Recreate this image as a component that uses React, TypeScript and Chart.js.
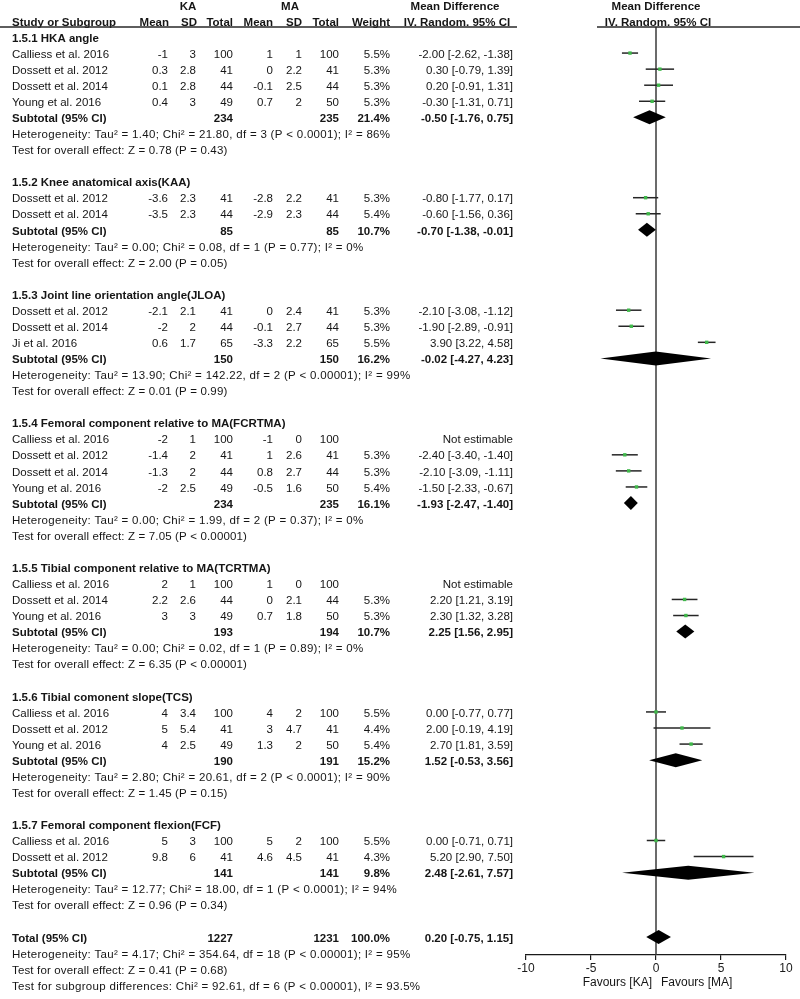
import React, { useEffect, useRef } from "react";
import { Chart, registerables } from "chart.js";

Chart.register(...registerables);

const groupTitles = [
  "1.5.1 HKA angle",
  "1.5.2 Knee anatomical axis(KAA)",
  "1.5.3 Joint line orientation angle(JLOA)",
  "1.5.4 Femoral component relative to MA(FCRTMA)",
  "1.5.5 Tibial component relative to MA(TCRTMA)",
  "1.5.6 Tibial comonent slope(TCS)",
  "1.5.7 Femoral component flexion(FCF)",
];

const studyGroup = [0, 0, 0, 0, 1, 1, 2, 2, 2, 3, 3, 3, 3, 4, 4, 4, 5, 5, 5, 6, 6];
const studyNames = [
  "Calliess et al. 2016", "Dossett et al. 2012", "Dossett et al. 2014", "Young et al. 2016",
  "Dossett et al. 2012", "Dossett et al. 2014",
  "Dossett et al. 2012", "Dossett et al. 2014", "Ji et al. 2016",
  "Calliess et al. 2016", "Dossett et al. 2012", "Dossett et al. 2014", "Young et al. 2016",
  "Calliess et al. 2016", "Dossett et al. 2014", "Young et al. 2016",
  "Calliess et al. 2016", "Dossett et al. 2012", "Young et al. 2016",
  "Calliess et al. 2016", "Dossett et al. 2012",
];
const kaMean = ["-1", "0.3", "0.1", "0.4", "-3.6", "-3.5", "-2.1", "-2", "0.6", "-2", "-1.4", "-1.3", "-2", "2", "2.2", "3", "4", "5", "4", "5", "9.8"];
const kaSD = ["3", "2.8", "2.8", "3", "2.3", "2.3", "2.1", "2", "1.7", "1", "2", "2", "2.5", "1", "2.6", "3", "3.4", "5.4", "2.5", "3", "6"];
const kaTotal = [100, 41, 44, 49, 41, 44, 41, 44, 65, 100, 41, 44, 49, 100, 44, 49, 100, 41, 49, 100, 41];
const maMean = ["1", "0", "-0.1", "0.7", "-2.8", "-2.9", "0", "-0.1", "-3.3", "-1", "1", "0.8", "-0.5", "1", "0", "0.7", "4", "3", "1.3", "5", "4.6"];
const maSD = ["1", "2.2", "2.5", "2", "2.2", "2.3", "2.4", "2.7", "2.2", "0", "2.6", "2.7", "1.6", "0", "2.1", "1.8", "2", "4.7", "2", "2", "4.5"];
const maTotal = [100, 41, 44, 50, 41, 44, 41, 44, 65, 100, 41, 44, 50, 100, 44, 50, 100, 41, 50, 100, 41];
const studyWeight = ["5.5%", "5.3%", "5.3%", "5.3%", "5.3%", "5.4%", "5.3%", "5.3%", "5.5%", "", "5.3%", "5.3%", "5.4%", "", "5.3%", "5.3%", "5.5%", "4.4%", "5.4%", "5.5%", "4.3%"];
const studyMD: (number | null)[] = [-2.0, 0.3, 0.2, -0.3, -0.8, -0.6, -2.1, -1.9, 3.9, null, -2.4, -2.1, -1.5, null, 2.2, 2.3, 0.0, 2.0, 2.7, 0.0, 5.2];
const studyLow: (number | null)[] = [-2.62, -0.79, -0.91, -1.31, -1.77, -1.56, -3.08, -2.89, 3.22, null, -3.4, -3.09, -2.33, null, 1.21, 1.32, -0.77, -0.19, 1.81, -0.71, 2.9];
const studyHigh: (number | null)[] = [-1.38, 1.39, 1.31, 0.71, 0.17, 0.36, -1.12, -0.91, 4.58, null, -1.4, -1.11, -0.67, null, 3.19, 3.28, 0.77, 4.19, 3.59, 0.71, 7.5];

const subKaTotal = [234, 85, 150, 234, 193, 190, 141];
const subMaTotal = [235, 85, 150, 235, 194, 191, 141];
const subWeight = ["21.4%", "10.7%", "16.2%", "16.1%", "10.7%", "15.2%", "9.8%"];
const subMD = [-0.5, -0.7, -0.02, -1.93, 2.25, 1.52, 2.48];
const subLow = [-1.76, -1.38, -4.27, -2.47, 1.56, -0.53, -2.61];
const subHigh = [0.75, -0.01, 4.23, -1.4, 2.95, 3.56, 7.57];
const subHet = [
  "Heterogeneity: Tau² = 1.40; Chi² = 21.80, df = 3 (P < 0.0001); I² = 86%",
  "Heterogeneity: Tau² = 0.00; Chi² = 0.08, df = 1 (P = 0.77); I² = 0%",
  "Heterogeneity: Tau² = 13.90; Chi² = 142.22, df = 2 (P < 0.00001); I² = 99%",
  "Heterogeneity: Tau² = 0.00; Chi² = 1.99, df = 2 (P = 0.37); I² = 0%",
  "Heterogeneity: Tau² = 0.00; Chi² = 0.02, df = 1 (P = 0.89); I² = 0%",
  "Heterogeneity: Tau² = 2.80; Chi² = 20.61, df = 2 (P < 0.0001); I² = 90%",
  "Heterogeneity: Tau² = 12.77; Chi² = 18.00, df = 1 (P < 0.0001); I² = 94%",
];
const subTest = [
  "Test for overall effect: Z = 0.78 (P = 0.43)",
  "Test for overall effect: Z = 2.00 (P = 0.05)",
  "Test for overall effect: Z = 0.01 (P = 0.99)",
  "Test for overall effect: Z = 7.05 (P < 0.00001)",
  "Test for overall effect: Z = 6.35 (P < 0.00001)",
  "Test for overall effect: Z = 1.45 (P = 0.15)",
  "Test for overall effect: Z = 0.96 (P = 0.34)",
];

const totalKa = 1227;
const totalMa = 1231;
const totalWeight = "100.0%";
const totalMD = 0.2;
const totalLow = -0.75;
const totalHigh = 1.15;
const totalNotes = [
  "Heterogeneity: Tau² = 4.17; Chi² = 354.64, df = 18 (P < 0.00001); I² = 95%",
  "Test for overall effect: Z = 0.41 (P = 0.68)",
  "Test for subgroup differences: Chi² = 92.61, df = 6 (P < 0.00001), I² = 93.5%",
];

const xTicks = [-10, -5, 0, 5, 10];

// ---- row layout (row index per line) ----
const groupHeaderRow: number[] = [];
const studyRow: number[] = [];
const subRow: number[] = [];
let rowCounter = 0;
for (let g = 0; g < groupTitles.length; g++) {
  groupHeaderRow[g] = rowCounter++;
  studyGroup.forEach((sg, i) => {
    if (sg === g) studyRow[i] = rowCounter++;
  });
  subRow[g] = rowCounter;
  rowCounter += 4; // subtotal, heterogeneity, test, blank
}
const totalRow = rowCounter;

const ROW0 = 37;
const ROWH = 16.07;
const TOP = 27;
const BOTTOM = 955;

const FONT = '"Liberation Sans", Arial, Helvetica, sans-serif';

const fmt = (v: number) => v.toFixed(2);
const mdText = (m: number, l: number, h: number) => `${fmt(m)} [${fmt(l)}, ${fmt(h)}]`;

const COL = { name: 12, kaM: 168, kaS: 196, kaN: 233, maM: 273, maS: 302, maN: 339, w: 390, md: 513 };

const forestPlugin = {
  id: "forest",
  beforeDatasetsDraw(chart: any) {
    const { ctx, scales, chartArea } = chart;
    const x = scales.x;
    const y = scales.y;
    ctx.save();
    const x0 = x.getPixelForValue(0);
    ctx.strokeStyle = "#3a3a3a";
    ctx.lineWidth = 1.5;
    ctx.beginPath();
    ctx.moveTo(x0, chartArea.top);
    ctx.lineTo(x0, chartArea.bottom);
    ctx.stroke();
    ctx.strokeStyle = "#262626";
    ctx.lineWidth = 1.5;
    studyMD.forEach((m, i) => {
      if (m === null) return;
      const py = y.getPixelForValue(studyRow[i]);
      ctx.beginPath();
      ctx.moveTo(x.getPixelForValue(studyLow[i] as number), py);
      ctx.lineTo(x.getPixelForValue(studyHigh[i] as number), py);
      ctx.stroke();
    });
    const diamond = (m: number, l: number, h: number, row: number) => {
      const py = y.getPixelForValue(row);
      ctx.beginPath();
      ctx.moveTo(x.getPixelForValue(l), py);
      ctx.lineTo(x.getPixelForValue(m), py - 7);
      ctx.lineTo(x.getPixelForValue(h), py);
      ctx.lineTo(x.getPixelForValue(m), py + 7);
      ctx.closePath();
      ctx.fillStyle = "#000";
      ctx.fill();
    };
    subMD.forEach((m, g) => diamond(m, subLow[g], subHigh[g], subRow[g]));
    diamond(totalMD, totalLow, totalHigh, totalRow);
    ctx.restore();
  },
  afterDraw(chart: any) {
    const { ctx, scales, chartArea } = chart;
    const x = scales.x;
    const y = scales.y;
    ctx.save();
    ctx.fillStyle = "#151515";
    ctx.textBaseline = "middle";
    const t = (s: string | number, px: number, row: number, align: CanvasTextAlign, bold = false, spacing = "0px") => {
      ctx.font = `${bold ? "bold " : ""}11.5px ${FONT}`;
      ctx.textAlign = align;
      (ctx as any).letterSpacing = spacing;
      ctx.fillText(String(s), px, y.getPixelForValue(row) + 1.5);
      (ctx as any).letterSpacing = "0px";
    };
    t("KA", 188, -2, "center", true);
    t("MA", 290, -2, "center", true);
    t("Mean Difference", 455, -2, "center", true);
    t("Mean Difference", x.getPixelForValue(0), -2, "center", true);
    t("Study or Subgroup", COL.name, -1, "left", true);
    t("Mean", COL.kaM + 1, -1, "right", true);
    t("SD", COL.kaS + 1, -1, "right", true);
    t("Total", COL.kaN, -1, "right", true);
    t("Mean", COL.maM, -1, "right", true);
    t("SD", COL.maS, -1, "right", true);
    t("Total", COL.maN, -1, "right", true);
    t("Weight", COL.w, -1, "right", true);
    t("IV. Random. 95% CI", 457, -1, "center", true);
    t("IV. Random. 95% CI", x.getPixelForValue(0) + 2, -1, "center", true);
    ctx.strokeStyle = "#2a2a2a";
    ctx.lineWidth = 1.5;
    ctx.beginPath();
    ctx.moveTo(0, chartArea.top);
    ctx.lineTo(517, chartArea.top);
    ctx.moveTo(597, chartArea.top);
    ctx.lineTo(800, chartArea.top);
    ctx.stroke();
    groupTitles.forEach((title, g) => {
      t(title, COL.name, groupHeaderRow[g], "left", true);
      const sr = subRow[g];
      t("Subtotal (95% CI)", COL.name, sr, "left", true);
      t(subKaTotal[g], COL.kaN, sr, "right", true);
      t(subMaTotal[g], COL.maN, sr, "right", true);
      t(subWeight[g], COL.w, sr, "right", true);
      t(mdText(subMD[g], subLow[g], subHigh[g]), COL.md, sr, "right", true);
      t(subHet[g], COL.name, sr + 1, "left", false, "0.3px");
      t(subTest[g], COL.name, sr + 2, "left", false, "0.15px");
    });
    studyNames.forEach((n, i) => {
      const r = studyRow[i];
      t(n, COL.name, r, "left");
      t(kaMean[i], COL.kaM, r, "right");
      t(kaSD[i], COL.kaS, r, "right");
      t(kaTotal[i], COL.kaN, r, "right");
      t(maMean[i], COL.maM, r, "right");
      t(maSD[i], COL.maS, r, "right");
      t(maTotal[i], COL.maN, r, "right");
      if (studyWeight[i]) t(studyWeight[i], COL.w, r, "right");
      const m = studyMD[i];
      if (m === null) t("Not estimable", COL.md, r, "right");
      else t(mdText(m, studyLow[i] as number, studyHigh[i] as number), COL.md, r, "right");
    });
    t("Total (95% CI)", COL.name, totalRow, "left", true);
    t(totalKa, COL.kaN, totalRow, "right", true);
    t(totalMa, COL.maN, totalRow, "right", true);
    t(totalWeight, COL.w, totalRow, "right", true);
    t(mdText(totalMD, totalLow, totalHigh), COL.md, totalRow, "right", true);
    totalNotes.forEach((s, k) => t(s, COL.name, totalRow + 1 + k, "left", false, k === 1 ? "0.15px" : "0.3px"));
    const x0 = x.getPixelForValue(0);
    ctx.font = `12px ${FONT}`;
    ctx.textAlign = "right";
    ctx.fillText("Favours [KA]", x0 - 4, 983);
    ctx.textAlign = "left";
    ctx.fillText("Favours [MA]", x0 + 5, 983);
    ctx.restore();
  },
};

export default function App() {
  const ref = useRef<HTMLCanvasElement | null>(null);
  useEffect(() => {
    if (!ref.current) return;
    const points = studyMD
      .map((m, i) => (m === null ? null : { x: m, y: studyRow[i] }))
      .filter((p) => p !== null) as { x: number; y: number }[];
    const chart = new Chart(ref.current, {
      type: "scatter",
      data: {
        datasets: [
          {
            data: points,
            pointStyle: "rect",
            pointRadius: 2.4,
            pointBorderWidth: 0,
            backgroundColor: "#3fb84a",
            borderColor: "#3fb84a",
          },
        ],
      },
      options: {
        animation: false,
        responsive: false,
        maintainAspectRatio: false,
        layout: { padding: { left: 526, right: 14, top: TOP, bottom: 999 - BOTTOM - 30 } },
        plugins: { legend: { display: false }, tooltip: { enabled: false } },
        scales: {
          x: {
            type: "linear",
            min: -10,
            max: 10,
            afterFit: (scale: any) => {
              scale.height = 30;
            },
            afterBuildTicks: (scale: any) => {
              scale.ticks = xTicks.map((v) => ({ value: v }));
            },
            ticks: {
              maxRotation: 0,
              autoSkip: false,
              padding: 1,
              color: "#1a1a1a",
              font: { size: 12, family: FONT },
            },
            grid: {
              drawOnChartArea: false,
              drawTicks: true,
              tickLength: 5,
              color: "#1a1a1a",
              lineWidth: 1.2,
            },
            border: { display: true, color: "#1a1a1a", width: 1.2 },
          },
          y: {
            type: "linear",
            display: false,
            reverse: true,
            min: (TOP - ROW0) / ROWH,
            max: (BOTTOM - ROW0) / ROWH,
          },
        },
      },
      plugins: [forestPlugin],
    });
    return () => chart.destroy();
  }, []);
  return (
    <div style={{ position: "absolute", left: 0, top: 0, width: 800, height: 999, background: "#fff" }}>
      <canvas ref={ref} width={800} height={999} style={{ width: 800, height: 999, display: "block" }} />
    </div>
  );
}
